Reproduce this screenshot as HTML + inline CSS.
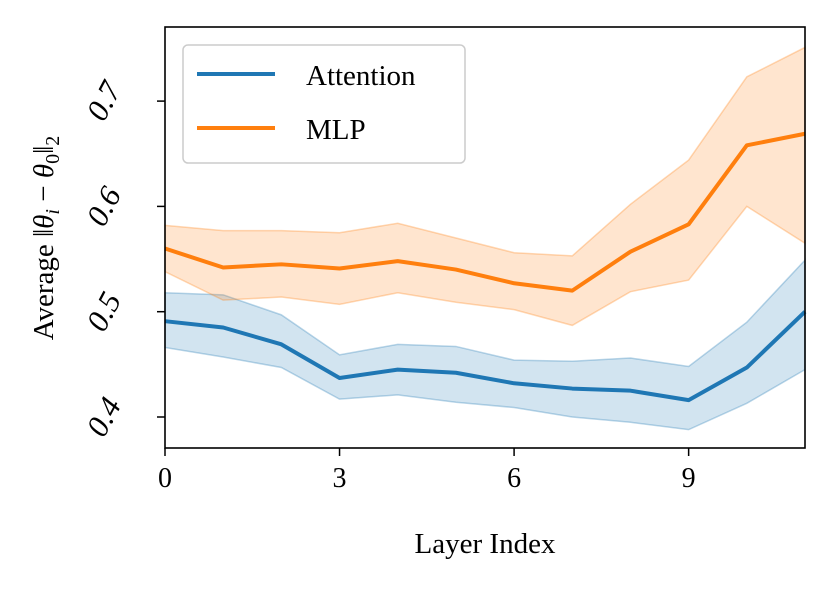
<!DOCTYPE html>
<html><head><meta charset="utf-8"><style>
body{margin:0;background:#fff}
svg text{font-family:"Liberation Serif",serif;fill:#000}
</style></head><body>
<svg width="831" height="588" viewBox="0 0 831 588">
<g id="plot"></g>
<rect x="165" y="27" width="640" height="421" fill="none" stroke="#000" stroke-width="1.6"/>
<g id="ticks"></g>
<text x="485" y="553" font-size="29" text-anchor="middle">Layer Index</text>
<text transform="translate(53,238) rotate(-90)" font-size="29" text-anchor="middle">Average ‖<tspan font-style="italic">θ</tspan><tspan font-style="italic" font-size="20" dy="6">i</tspan><tspan dy="-6"> − </tspan><tspan font-style="italic">θ</tspan><tspan font-size="20" dy="6">0</tspan><tspan dy="-6">‖</tspan><tspan font-size="20" dy="6">2</tspan></text>
<g>
<rect x="183" y="45" width="282" height="118" rx="5" fill="#fff" fill-opacity="0.8" stroke="#ccc" stroke-width="1.5"/>
<line x1="197" y1="74" x2="275" y2="74" stroke="#1f77b4" stroke-width="4"/>
<text x="306" y="85" font-size="29">Attention</text>
<line x1="197" y1="128" x2="275" y2="128" stroke="#ff7f0e" stroke-width="4"/>
<text x="306" y="139" font-size="29">MLP</text>
</g>
</svg>
<script>
const layers=[0,1,2,3,4,5,6,7,8,9,10,11];
const attnMean=[0.491,0.485,0.469,0.437,0.445,0.442,0.432,0.427,0.425,0.416,0.447,0.500];
const attnUpper=[0.518,0.516,0.497,0.459,0.469,0.467,0.454,0.453,0.456,0.448,0.490,0.549];
const attnLower=[0.466,0.457,0.447,0.417,0.421,0.414,0.409,0.400,0.395,0.388,0.413,0.445];
const mlpMean=[0.560,0.542,0.545,0.541,0.548,0.540,0.527,0.520,0.557,0.583,0.658,0.669];
const mlpUpper=[0.582,0.577,0.577,0.575,0.584,0.570,0.556,0.553,0.602,0.644,0.723,0.751];
const mlpLower=[0.538,0.511,0.514,0.507,0.518,0.509,0.502,0.487,0.519,0.530,0.600,0.565];
const xTicks=[0,3,6,9];
const yTicks=[0.4,0.5,0.6,0.7];
const NS="http://www.w3.org/2000/svg";
const X=v=>165+v*(640/11);
const Y=v=>417-(v-0.4)*1053;
const plot=document.getElementById('plot');
const ticks=document.getElementById('ticks');
function mk(tag,attrs,parent){const e=document.createElementNS(NS,tag);for(const k in attrs)e.setAttribute(k,attrs[k]);parent.appendChild(e);return e;}
function band(lo,hi,color,name){
  let d=layers.map((l,i)=>(i?'L':'M')+X(l)+','+Y(hi[i])).join('');
  for(let i=layers.length-1;i>=0;i--)d+='L'+X(layers[i])+','+Y(lo[i]);
  const p=mk('path',{d:d+'Z',fill:color,'fill-opacity':0.2,stroke:color,'stroke-opacity':0.3,'stroke-width':1.5},plot);
  
  
}
function line(m,color,name){
  const d=layers.map((l,i)=>(i?'L':'M')+X(l)+','+Y(m[i])).join('');
  const p=mk('path',{d:d,fill:'none',stroke:color,'stroke-width':4,'stroke-linejoin':'round'},plot);
  
  
}
band(attnLower,attnUpper,'#1f77b4','attention-band');
band(mlpLower,mlpUpper,'#ff7f0e','mlp-band');
line(attnMean,'#1f77b4','attention-line');
line(mlpMean,'#ff7f0e','mlp-line');
xTicks.forEach(t=>{
  const l=mk('line',{x1:X(t),x2:X(t),y1:448,y2:456,stroke:'#000','stroke-width':1.5},ticks);
  
  
  const tx=mk('text',{x:X(t),y:487,'font-size':28,'text-anchor':'middle'},ticks);
  tx.textContent=t;
  
  
});
yTicks.forEach(t=>{
  const l=mk('line',{x1:157,x2:165,y1:Y(t),y2:Y(t),stroke:'#000','stroke-width':1.5},ticks);
  
  
  const tx=mk('text',{transform:`translate(${104},${Y(t)}) rotate(-62)`,'font-size':31,'font-style':'italic','text-anchor':'middle',y:10},ticks);
  tx.textContent=t.toFixed(1);
  
  
});
</script>
</body></html>
